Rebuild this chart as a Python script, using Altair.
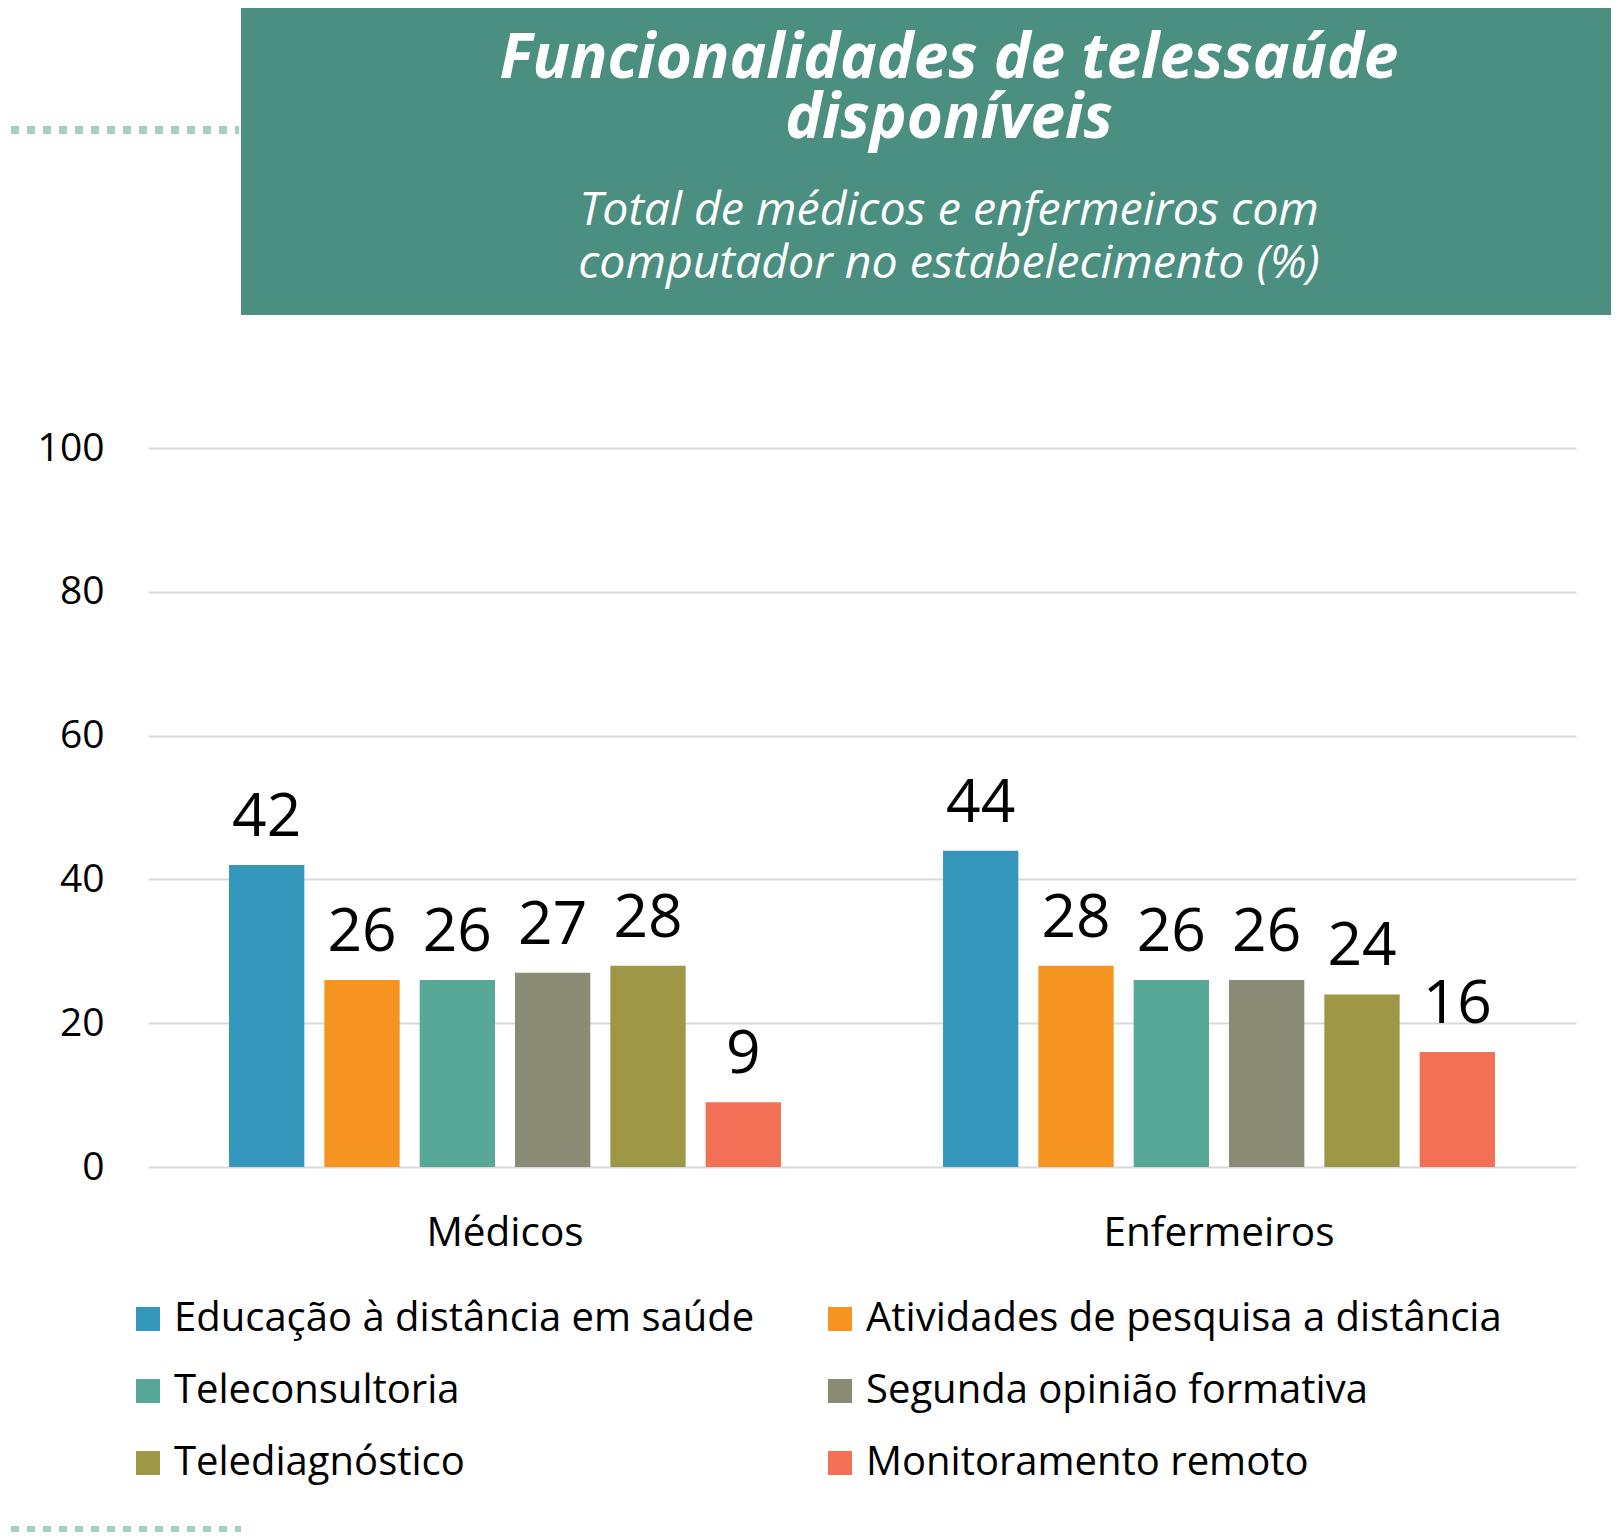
import altair as alt
import pandas as pd

# ---- data ----
grupos = ["Médicos", "Enfermeiros"]
series = [
    "Educação à distância em saúde",
    "Atividades de pesquisa a distância",
    "Teleconsultoria",
    "Segunda opinião formativa",
    "Telediagnóstico",
    "Monitoramento remoto",
]
valores_medicos = [42, 26, 26, 27, 28, 9]
valores_enfermeiros = [44, 28, 26, 26, 24, 16]
cores = ["#3497bb", "#f59420", "#58a897", "#8a8b75", "#9e9746", "#f27056"]
y_ticks = [0, 20, 40, 60, 80, 100]

titulo = ["Funcionalidades de telessaúde", "disponíveis"]
subtitulo = ["Total de médicos e enfermeiros com", "computador no estabelecimento (%)"]

rows = []
for g, vals in zip(grupos, [valores_medicos, valores_enfermeiros]):
    for s, v in zip(series, vals):
        rows.append({"grupo": g, "serie": s, "valor": v})
df = pd.DataFrame(rows)

FONT = "Open Sans"
W, H = 1428, 719

x_enc = alt.X("grupo:N", sort=grupos, title=None,
              scale=alt.Scale(paddingInner=0, paddingOuter=0),
              axis=alt.Axis(labelAngle=0, labelFontSize=40.5, labelColor="#000000",
                            labelFont=FONT, ticks=False, tickSize=0, domain=False,
                            labelPadding=46, grid=False, labelLimit=600))
xoff_enc = alt.XOffset("serie:N", sort=series,
                       scale=alt.Scale(paddingInner=0.21, paddingOuter=0.85))
y_enc = alt.Y("valor:Q", title=None,
              scale=alt.Scale(domain=[0, 100], nice=False),
              axis=alt.Axis(values=y_ticks, labelFontSize=39, labelColor="#000000",
                            labelFont=FONT, ticks=False, tickSize=0, domain=False,
                            labelPadding=44, gridColor="#d9d9d9", gridWidth=2))

bars = alt.Chart(df).mark_bar().encode(
    x=x_enc,
    xOffset=xoff_enc,
    y=y_enc,
    color=alt.Color("serie:N", sort=series, title=None,
                    scale=alt.Scale(domain=series, range=cores),
                    legend=alt.Legend(orient="none", legendX=-20, legendY=851,
                                      direction="horizontal",
                                      columns=2, columnPadding=65, rowPadding=32,
                                      symbolType="square", symbolSize=576,
                                      symbolStrokeWidth=0, labelFontSize=40,
                                      labelFont=FONT, labelColor="#000000",
                                      labelOffset=6, labelLimit=800, padding=0)),
)

labels = alt.Chart(df).mark_text(
    baseline="alphabetic", dy=-29, fontSize=60.5, font=FONT, color="#000000"
).encode(
    x=alt.X("grupo:N", sort=grupos),
    xOffset=alt.XOffset("serie:N", sort=series),
    y="valor:Q",
    text="valor:Q",
)

one = alt.Data(values=[{"k": 1}])

title_box = alt.Chart(one).mark_rect(color="#4a8f80").encode(
    x=alt.value(93), x2=alt.value(1463), y=alt.value(-441), y2=alt.value(-133)
)

dots_top = alt.Chart(one).mark_rule(
    color="#a6cfc4", strokeWidth=8, strokeDash=[8, 8], strokeCap="butt"
).encode(x=alt.value(-137), x2=alt.value(91), y=alt.value(-318))

dots_bottom = alt.Chart(one).mark_rule(
    color="#a6cfc4", strokeWidth=8, strokeDash=[8, 8], strokeCap="butt"
).encode(x=alt.value(-137), x2=alt.value(93), y=alt.value(1082))

t1 = alt.Chart(one).mark_text(
    font=FONT, fontSize=62, fontWeight="bold", fontStyle="italic", color="white",
    align="center", baseline="alphabetic", lineHeight=60
).encode(x=alt.value(801), y=alt.value(-370), text=alt.value(titulo))

s1 = alt.Chart(one).mark_text(
    font=FONT, fontSize=46.5, fontStyle="italic", color="white",
    align="center", baseline="alphabetic", lineHeight=53
).encode(x=alt.value(801), y=alt.value(-223), text=alt.value(subtitulo))

chart = alt.layer(
    title_box, dots_top, dots_bottom, t1, s1, bars, labels
).properties(
    width=W, height=H,
    autosize=alt.AutoSizeParams(type="none"),
    padding={"left": 140, "top": 440, "right": 40, "bottom": 365},
    background="white",
).configure(font=FONT).configure_view(strokeWidth=0, stroke="transparent")

chart.save("out.html", embed_options={"renderer": "svg", "actions": False})
